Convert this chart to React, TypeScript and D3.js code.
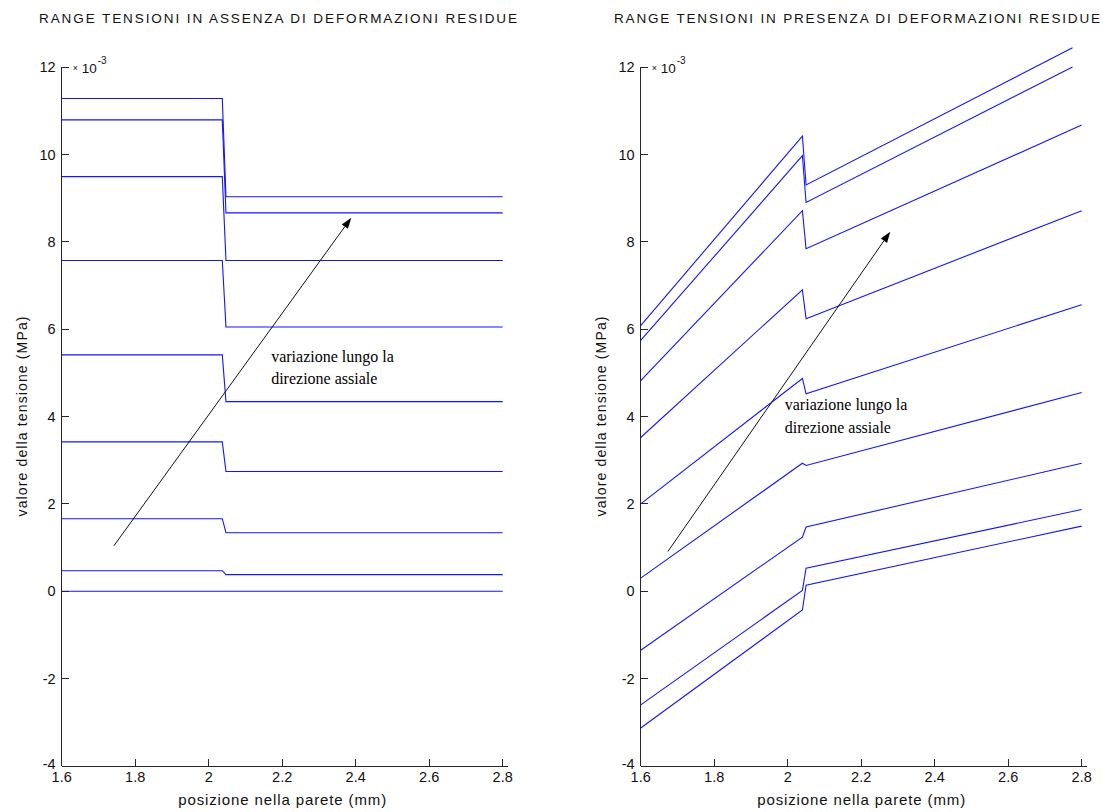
import React from "react";
import * as d3 from "d3";

const W = 1103;
const H = 812;

// Axis ticks shared by both panels
const xTicks = [1.6, 1.8, 2.0, 2.2, 2.4, 2.6, 2.8];
const yTicks = [-4, -2, 0, 2, 4, 6, 8, 10, 12];
const yTickLabels = ["-4", "-2", "0", "2", "4", "6", "8", "10", "12"];
const xTickLabels = ["1.6", "1.8", "2", "2.2", "2.4", "2.6", "2.8"];

// Left panel: stress range without residual strains (values ×1e-3 MPa)
const leftX = [1.6, 2.037, 2.047, 2.8];
const leftInner = [11.28, 10.79, 9.49, 7.57, 5.41, 3.42, 1.66, 0.47, 0];
const leftOuter = [9.03, 8.66, 7.57, 6.05, 4.34, 2.74, 1.34, 0.38, 0];

// Right panel: stress range with residual strains
const rightBreakX = [1.6, 2.04, 2.05];
const rightStart = [6.08, 5.74, 4.82, 3.52, 2.0, 0.3, -1.35, -2.6, -3.13];
const rightPeak = [10.42, 9.97, 8.71, 6.9, 4.87, 2.93, 1.24, 0.02, -0.43];
const rightAfter = [9.3, 8.9, 7.84, 6.24, 4.52, 2.88, 1.47, 0.53, 0.14];
const rightEnd = [12.44, 12.0, 10.67, 8.71, 6.56, 4.55, 2.93, 1.87, 1.49];
const rightEndX = [2.775, 2.775, 2.8, 2.8, 2.8, 2.8, 2.8, 2.8, 2.8];

// Annotation arrows [x0, y0, x1, y1] in data units
const leftArrow = [1.742, 1.04, 2.388, 8.55];
const rightArrow = [1.674, 0.91, 2.279, 8.23];
const leftNote = [2.17, 5.25];
const rightNote = [1.992, 4.14];
const noteLines = ["variazione lungo la", "direzione assiale"];

const titles = [
  "RANGE TENSIONI IN ASSENZA DI DEFORMAZIONI RESIDUE",
  "RANGE TENSIONI IN PRESENZA DI DEFORMAZIONI RESIDUE",
];
const xLabel = "posizione nella parete (mm)";
const yLabel = "valore della tensione (MPa)";

const SANS = "'Liberation Sans', Arial, Helvetica, sans-serif";
const SERIF = "'Liberation Serif', 'Times New Roman', serif";
const AXIS = "#262626";
const LINE = "#1414ff";
const TICK_FS = 14.5;

type Pt = [number, number];

function Panel(props: {
  x0: number;
  title: string;
  titleX: number;
  titleLen: number;
  series: Pt[][];
  arrow: number[];
  note: number[];
}) {
  const { x0, title, titleX, titleLen, series, arrow, note } = props;
  const x = d3.scaleLinear().domain([1.6, 2.8]).range([x0, x0 + 441]);
  const y = d3.scaleLinear().domain([-4, 12]).range([766, 67]);
  const line = d3
    .line<Pt>()
    .x((d) => x(d[0]))
    .y((d) => y(d[1]));

  const ax0 = x(arrow[0]);
  const ay0 = y(arrow[1]);
  const ax1 = x(arrow[2]);
  const ay1 = y(arrow[3]);
  const ang = Math.atan2(ay1 - ay0, ax1 - ax0);
  const hl = 11;
  const hw = 3.8;
  const bx = ax1 - hl * Math.cos(ang);
  const by = ay1 - hl * Math.sin(ang);
  const head = `M${ax1},${ay1} L${bx - hw * Math.sin(ang)},${by + hw * Math.cos(ang)} L${
    bx + hw * Math.sin(ang)
  },${by - hw * Math.cos(ang)} Z`;

  const xr = x.range();
  const yr = y.range();
  const midY = (yr[0] + yr[1]) / 2;
  const midX = (xr[0] + xr[1]) / 2;

  return (
    <g>
      <text
        x={titleX}
        y={23}
        textAnchor="middle"
        fontFamily={SANS}
        fontSize={13.5}
        fill="#111"
        textLength={titleLen}
        lengthAdjust="spacing"
      >
        {title}
      </text>

      {series.map((s, i) => (
        <path key={i} d={line(s) || ""} fill="none" stroke={LINE} strokeWidth={1.1} />
      ))}

      {/* axes */}
      <g shapeRendering="crispEdges" stroke={AXIS} strokeWidth={1}>
        <line x1={xr[0]} x2={xr[1] + 5} y1={yr[0]} y2={yr[0]} />
        <line x1={xr[0]} x2={xr[0]} y1={yr[0]} y2={yr[1]} />
        {xTicks.map((t) => (
          <line key={"xt" + t} x1={x(t)} x2={x(t)} y1={yr[0]} y2={yr[0] - 7} />
        ))}
        {yTicks.map((t) => (
          <line key={"yt" + t} x1={xr[0]} x2={xr[0] + 7} y1={y(t)} y2={y(t)} />
        ))}
      </g>
      {xTicks.map((t, i) => (
        <text
          key={"xl" + t}
          x={x(t)}
          y={782}
          textAnchor="middle"
          fontFamily={SANS}
          fontSize={TICK_FS}
          fill="#111"
        >
          {xTickLabels[i]}
        </text>
      ))}
      {yTicks.map((t, i) => (
        <text
          key={"yl" + t}
          x={xr[0] - 6}
          y={y(t)}
          dy={t === -4 ? "0.2em" : "0.36em"}
          textAnchor="end"
          fontFamily={SANS}
          fontSize={TICK_FS}
          fill="#111"
        >
          {yTickLabels[i]}
        </text>
      ))}
      {/* exponent marker */}
      <text x={xr[0] + 11} y={71} fontFamily={SANS} fontSize={9} fill="#111">
        ×
      </text>
      <text x={xr[0] + 20} y={73} fontFamily={SANS} fontSize={13.5} fill="#111">
        10
      </text>
      <text x={xr[0] + 36} y={64} fontFamily={SANS} fontSize={10} fill="#111">
        -3
      </text>

      <text
        x={midX}
        y={805}
        textAnchor="middle"
        fontFamily={SANS}
        fontSize={15}
        fill="#111"
        textLength={208}
        lengthAdjust="spacing"
      >
        {xLabel}
      </text>
      <text
        transform={`translate(${xr[0] - 35},${midY}) rotate(-90)`}
        textAnchor="middle"
        fontFamily={SANS}
        fontSize={14}
        fill="#111"
        textLength={200}
        lengthAdjust="spacing"
      >
        {yLabel}
      </text>

      {/* axial variation arrow */}
      <line x1={ax0} y1={ay0} x2={bx} y2={by} stroke="#111" strokeWidth={1} />
      <path d={head} fill="#000" />
      {noteLines.map((s, i) => (
        <text
          key={s}
          x={x(note[0])}
          y={y(note[1]) + i * 22.5}
          fontFamily={SERIF}
          fontSize={16}
          fill="#000"
        >
          {s}
        </text>
      ))}
    </g>
  );
}

export default function App() {
  const leftSeries: Pt[][] = leftInner.map((v, i) => [
    [leftX[0], v],
    [leftX[1], v],
    [leftX[2], leftOuter[i]],
    [leftX[3], leftOuter[i]],
  ]);
  const rightSeries: Pt[][] = rightStart.map((v, i) => [
    [rightBreakX[0], v],
    [rightBreakX[1], rightPeak[i]],
    [rightBreakX[2], rightAfter[i]],
    [rightEndX[i], rightEnd[i]],
  ]);

  return (
    <svg
      width={W}
      height={H}
      viewBox={`0 0 ${W} ${H}`}
      style={{ position: "absolute", left: 0, top: 0, background: "#fff" }}
    >
      <rect width={W} height={H} fill="#fff" />
      <Panel
        x0={61.7}
        title={titles[0]}
        titleX={278}
        titleLen={478}
        series={leftSeries}
        arrow={leftArrow}
        note={leftNote}
      />
      <Panel
        x0={640.7}
        title={titles[1]}
        titleX={857}
        titleLen={486}
        series={rightSeries}
        arrow={rightArrow}
        note={rightNote}
      />
    </svg>
  );
}
